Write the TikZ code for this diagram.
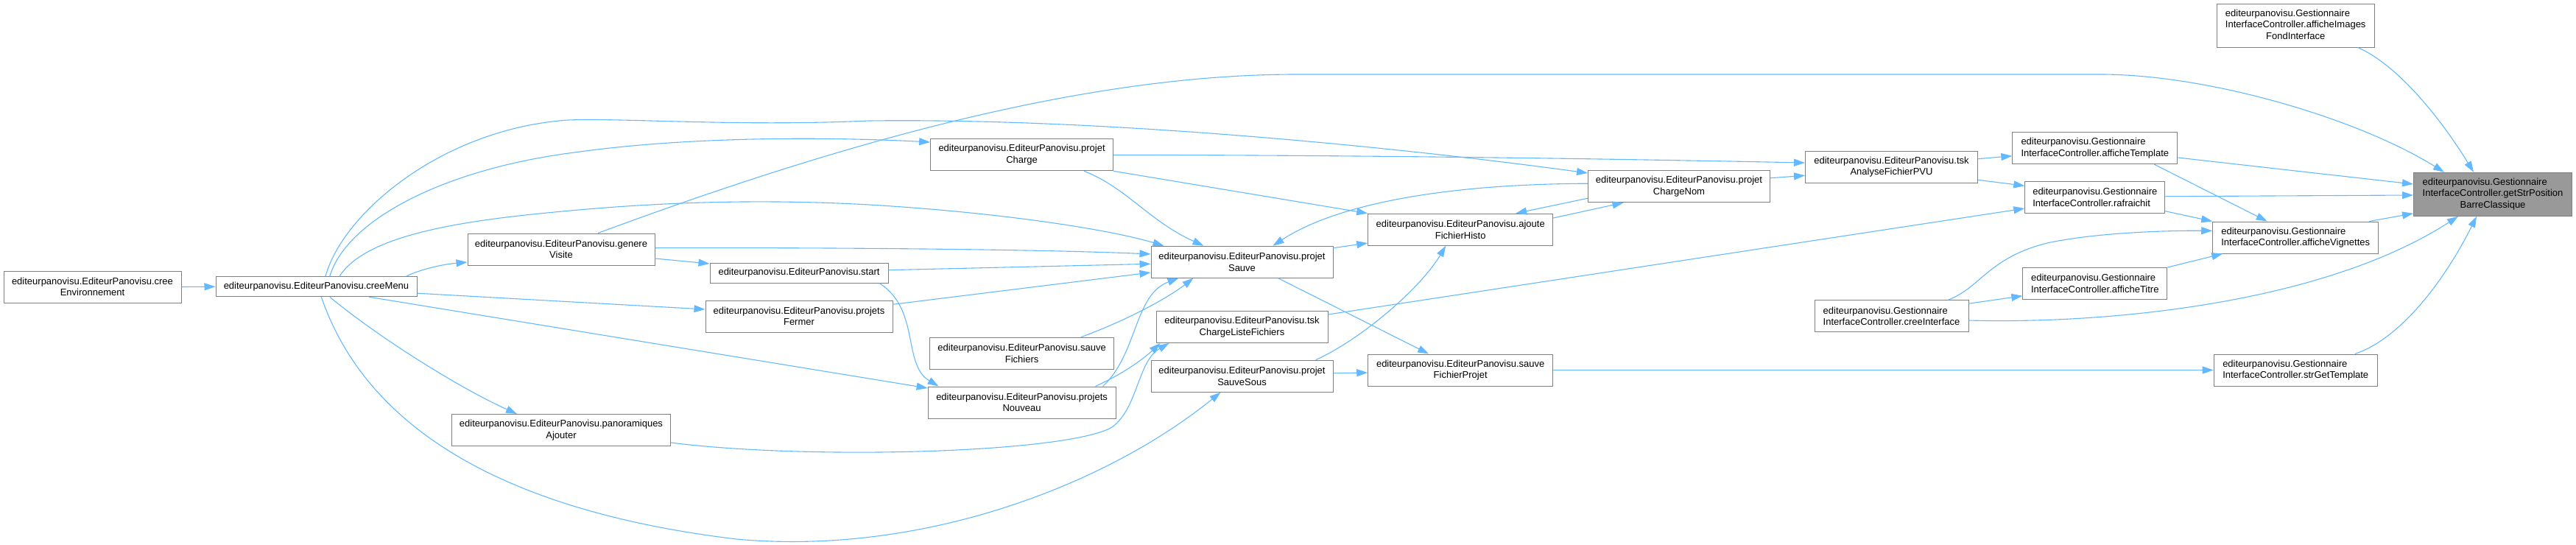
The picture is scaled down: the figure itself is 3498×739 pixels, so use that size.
\documentclass[tikz,border=0pt]{standalone}
\usepackage{fontspec}
\setmainfont{Liberation Sans}
\usetikzlibrary{arrows.meta}
\definecolor{edgeblue}{HTML}{63B8FF}
\definecolor{boxgray}{HTML}{7F7F7F}
\definecolor{focusgray}{HTML}{999999}

\begin{document}
\begin{tikzpicture}[x=1pt, y=-1pt,
    fn/.style={draw=boxgray, line width=1pt, fill=white, inner sep=0pt, align=center,
               font=\fontsize{13}{15.6}\selectfont},
    gn/.style={fn, align=left},
    focusnode/.style={fn, fill=focusgray},
    sz/.style 2 args={minimum width=#1pt, minimum height=#2pt},
    call/.style={draw=edgeblue, line width=1.1pt, -{Triangle[length=15pt,width=10pt]}},
  ]
    \useasboundingbox (0,0) rectangle (3498,739);

    % 1. EditeurPanovisu, colonnes de gauche
    \node[fn, sz={241}{43}] (cEnv) at (125.5,389.5) {editeurpanovisu.EditeurPanovisu.cree\\Environnement};
    \node[fn, sz={273}{27}] (cMenu) at (429.5,389.2) {editeurpanovisu.EditeurPanovisu.creeMenu};
    \node[fn, sz={254}{43}] (gVisite) at (762,338.5) {editeurpanovisu.EditeurPanovisu.genere\\Visite};
    \node[fn, sz={297}{43}] (pAjouter) at (762,584) {editeurpanovisu.EditeurPanovisu.panoramiques\\Ajouter};
    \node[fn, sz={242}{27}] (start) at (1085,370.5) {editeurpanovisu.EditeurPanovisu.start};
    \node[fn, sz={254}{43}] (pFermer) at (1085,429.5) {editeurpanovisu.EditeurPanovisu.projets\\Fermer};
    \node[fn, sz={248}{43}] (pCharge) at (1387.6,210.3) {editeurpanovisu.EditeurPanovisu.projet\\Charge};
    \node[fn, sz={250}{43}] (sFichiers) at (1387.6,479.8) {editeurpanovisu.EditeurPanovisu.sauve\\Fichiers};
    \node[fn, sz={255}{43}] (pNouveau) at (1387.6,546.5) {editeurpanovisu.EditeurPanovisu.projets\\Nouveau};
    \node[fn, sz={247}{43}] (pSauve) at (1686.5,355.7) {editeurpanovisu.EditeurPanovisu.projet\\Sauve};
    \node[fn, sz={233}{43}] (tskCLF) at (1686.5,444) {editeurpanovisu.EditeurPanovisu.tsk\\ChargeListeFichiers};
    \node[fn, sz={247}{43}] (pSauveSous) at (1686.5,510.7) {editeurpanovisu.EditeurPanovisu.projet\\SauveSous};
    \node[fn, sz={251}{43}] (aFHisto) at (1983.2,311.7) {editeurpanovisu.EditeurPanovisu.ajoute\\FichierHisto};
    \node[fn, sz={251}{43}] (sFProjet) at (1983.2,502.5) {editeurpanovisu.EditeurPanovisu.sauve\\FichierProjet};
    \node[fn, sz={247}{43}] (pChargeNom) at (2280,253.2) {editeurpanovisu.EditeurPanovisu.projet\\ChargeNom};
    \node[fn, sz={234}{43}] (tskAFP) at (2568.5,226.5) {editeurpanovisu.EditeurPanovisu.tsk\\AnalyseFichierPVU};

    % 2. GestionnaireInterfaceController
    \node[gn, sz={209}{43}] (cInterface) at (2568.5,429.2) {editeurpanovisu.Gestionnaire\\InterfaceController.creeInterface};
    \node[gn, sz={224}{43}] (aTemplate) at (2844.8,201.2) {editeurpanovisu.Gestionnaire\\InterfaceController.afficheTemplate};
    \node[gn, sz={190}{43}] (rafraichit) at (2844.8,268) {editeurpanovisu.Gestionnaire\\InterfaceController.rafraichit};
    \node[gn, sz={196}{43}] (aTitre) at (2844.8,385) {editeurpanovisu.Gestionnaire\\InterfaceController.afficheTitre};
    \node[gn, sz={225}{43}] (aVignettes) at (3117.2,322.5) {editeurpanovisu.Gestionnaire\\InterfaceController.afficheVignettes};
    \node[gn, sz={222}{43}] (sGTemplate) at (3117.2,502.5) {editeurpanovisu.Gestionnaire\\InterfaceController.strGetTemplate};
    \node[fn, sz={214}{59}] (aIFI) at (3117.2,34.5)
        {\begin{tabular}{@{}l@{}}editeurpanovisu.Gestionnaire\\InterfaceController.afficheImages\\
         \multicolumn{1}{@{}c@{}}{FondInterface}\end{tabular}};
    \node[focusnode, sz={215}{59}] (focus) at (3385,263.8)
        {\begin{tabular}{@{}l@{}}editeurpanovisu.Gestionnaire\\InterfaceController.getStrPosition\\
         \multicolumn{1}{@{}c@{}}{BarreClassique}\end{tabular}};

    % 3. appels depuis creeMenu
    \draw[call] (cEnv.east) -- (cMenu.west);
    \draw[call] ([xshift=-15pt]cMenu.north east) .. controls (570,366) and (600,359) .. ([yshift=-17.5pt]gVisite.west);
    \draw[call] ([xshift=18.3pt]cMenu.north) .. controls (470,300) and (600,230) .. (780,207)
                .. controls (950,183) and (1150,187) .. ([yshift=17.3pt]pCharge.west);
    \draw[call] ([xshift=12.5pt]cMenu.north) .. controls (465,290) and (600,175) .. (771,163)
                .. controls (850,160) and (1000,172) .. (1180,164)
                .. controls (1500,160) and (1900,200) .. ([yshift=18.2pt]pChargeNom.west);
    \draw[call] ([xshift=31.5pt]cMenu.north) .. controls (490,330) and (580,305) .. (733,290)
                .. controls (850,278) and (1000,268) .. (1180,278)
                .. controls (1350,288) and (1500,310) .. ([xshift=18pt]pSauve.north west);
    \draw[call] ([yshift=-9pt]cMenu.east) -- ([yshift=9.5pt]pFermer.west);
    \draw[call] ([xshift=71.5pt]cMenu.south) -- ([yshift=19.5pt]pNouveau.west);
    \draw[call] ([xshift=18.3pt]cMenu.south) .. controls (510,455) and (620,525) .. ([xshift=-60pt]pAjouter.north);
    \draw[call] ([xshift=6.8pt]cMenu.south) .. controls (490,560) and (650,690) .. (1000,732)
                .. controls (1250,755) and (1500,660) .. ([xshift=-29pt]pSauveSous.south);

    % 4. genereVisite, start, projets
    \draw[call] ([xshift=50pt]gVisite.north) .. controls (1100,210) and (1450,101) .. (1760,101) -- (2856,101)
                .. controls (3000,102) and (3200,160) .. ([xshift=42pt]focus.north west);
    \draw[call] ([yshift=1.8pt]gVisite.east) .. controls (1100,336) and (1400,338) .. ([yshift=10.7pt]pSauve.west);
    \draw[call] ([yshift=-12.5pt]gVisite.east) -- ([yshift=12.5pt]start.west);
    \draw[call] ([yshift=3.8pt]start.east) -- ([yshift=-2.6pt]pSauve.west);
    \draw[call] ([xshift=109pt]start.south) .. controls (1250,420) and (1225,495) .. ([xshift=15pt]pNouveau.north west);
    \draw[call] ([yshift=16.2pt]pFermer.east) -- ([yshift=-14.3pt]pSauve.west);
    \draw[call] ([yshift=-17pt]pAjouter.east) .. controls (1100,625) and (1450,615) .. (1510,580)
                .. controls (1545,555) and (1545,490) .. ([xshift=18pt]tskCLF.south west);
    \draw[call] ([xshift=-28pt]pNouveau.north east) .. controls (1530,505) and (1555,485) .. ([xshift=6pt]tskCLF.south west);
    \draw[call] ([xshift=-18pt]pNouveau.north east) .. controls (1545,480) and (1540,400) .. ([xshift=38pt]pSauve.south west);
    \draw[call] ([xshift=80pt]sFichiers.north) .. controls (1530,435) and (1585,405) .. ([xshift=58pt]pSauve.south west);
    \draw[call] ([xshift=-40pt]pCharge.south east) .. controls (1530,255) and (1560,300) .. ([xshift=72pt]pSauve.north west);
    \draw[call] (pCharge.east) .. controls (1900,211) and (2200,216) .. ([yshift=5.5pt]tskAFP.west);
    \draw[call] (pCharge.south east) -- (aFHisto.north west);

    % 5. projetSauve, ajouteFichierHisto, projetChargeNom
    \draw[call] ([yshift=19pt]pSauve.east) -- ([yshift=-18.3pt]aFHisto.west);
    \draw[call] ([xshift=-75pt]pSauve.south east) -- ([xshift=83pt]sFProjet.north west);
    \draw[call] ([yshift=4pt]pSauveSous.east) -- ([yshift=-3.5pt]sFProjet.west);
    \draw[call] ([xshift=-24pt]pSauveSous.north east) .. controls (1850,460) and (1930,390) .. ([xshift=106pt]aFHisto.south west);
    \draw[call] ([yshift=17pt]tskCLF.east) -- ([yshift=-15pt]rafraichit.west);
    \draw[call] ([yshift=-16pt]pChargeNom.west) -- ([xshift=-51pt]aFHisto.north east);
    \draw[call] ([yshift=15.7pt]aFHisto.east) -- ([xshift=48.5pt]pChargeNom.south west);
    \draw[call] ([yshift=4pt]pChargeNom.west) .. controls (1950,250) and (1810,280) .. ([xshift=-82pt]pSauve.north east);
    \draw[call] ([yshift=11.5pt]pChargeNom.east) -- ([yshift=-11.8pt]tskAFP.west);
    \draw[call] ([yshift=10.8pt]tskAFP.east) -- ([yshift=-10.5pt]aTemplate.west);
    \draw[call] ([yshift=-17.8pt]tskAFP.east) -- ([yshift=15.7pt]rafraichit.west);
    \draw[call] (sFProjet.east) -- (sGTemplate.west);

    % 6. vers getStrPositionBarreClassique
    \draw[call] ([yshift=17pt]cInterface.east) -- ([yshift=-16.7pt]aTitre.west);
    \draw[call] ([xshift=-28pt]cInterface.north east) .. controls (2690,390) and (2700,350) .. (2780,330)
                .. controls (2850,315) and (2950,313) .. ([yshift=9.2pt]aVignettes.west);
    \draw[call] ([yshift=-5.8pt]cInterface.east) .. controls (2850,440) and (3150,415) .. ([xshift=61pt]focus.south west);
    \draw[call] ([yshift=-12.8pt]aTemplate.east) -- ([yshift=13.8pt]focus.west);
    \draw[call] ([yshift=1.3pt]rafraichit.east) -- ([yshift=-1.2pt]focus.west);
    \draw[call] ([xshift=-32pt]aTemplate.south east) -- ([xshift=74.5pt]aVignettes.north west);
    \draw[call] ([yshift=-18.7pt]rafraichit.east) -- (aVignettes.north west);
    \draw[call] ([xshift=-13pt]aVignettes.north east) -- ([yshift=-26pt]focus.west);
    \draw[call] (aTitre.north east) -- ([xshift=14pt]aVignettes.south west);
    \draw[call] ([xshift=-23pt]aIFI.south east) .. controls (3260,90) and (3320,170) .. ([xshift=82pt]focus.north west);
    \draw[call] ([xshift=-31pt]sGTemplate.north east) .. controls (3260,460) and (3320,380) .. ([xshift=86pt]focus.south west);
\end{tikzpicture}
\end{document}
